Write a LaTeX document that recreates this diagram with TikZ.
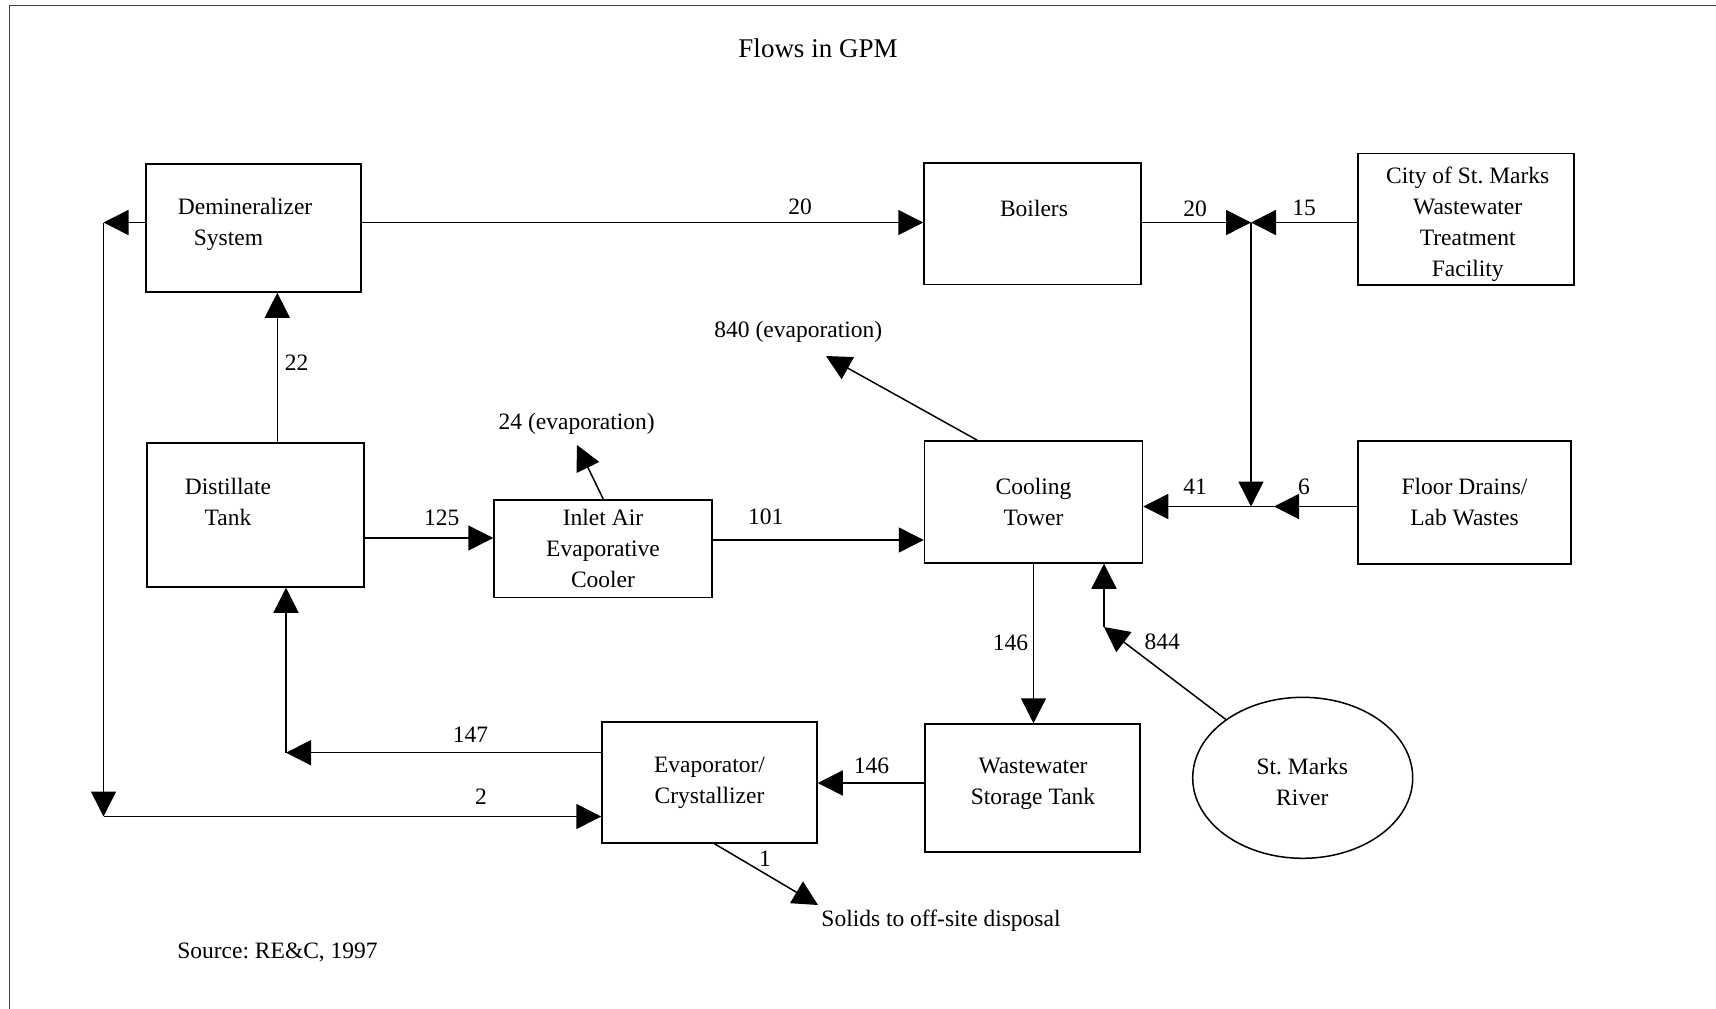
\documentclass[tikz,border=0pt]{standalone}
\usepackage{fontspec}
\setmainfont{Liberation Serif}
\usetikzlibrary{arrows.meta,shapes.geometric}
\frenchspacing
\begin{document}
\begin{tikzpicture}[x=1pt,y=-1pt,
  box/.style={draw,line width=1.5pt,rectangle,inner sep=0pt,font=\fontsize{23.5}{31}\selectfont,align=center},
  txt/.style={font=\fontsize{23.5}{31}\selectfont,align=center,inner sep=0pt},
  lab/.style={font=\fontsize{23.5}{28}\selectfont,inner sep=0pt},
  flow/.style={line width=1.5pt,-{Triangle[length=25pt,width=25pt]}}]
\useasboundingbox (0,0) rectangle (1716,1009);
% scan frame
\draw[line width=1.5pt,black!75] (9.5,1009) -- (9.5,5.5) -- (1716,5.5);
\node[lab,font=\fontsize{27}{30}\selectfont] (title) at (818,48) {Flows in GPM};

% boxes
\node[box,minimum width=215pt,minimum height=128pt] (demin) at (253.5,228) {};
\node[txt,align=left,anchor=west] (demint) at (177.7,224) {Demineralizer\\\hspace*{16pt}System};
\node[box,minimum width=217pt,minimum height=144pt] (distill) at (255.5,515) {};
\node[txt] (distillt) at (228,502) {Distillate\\Tank};
\node[box,minimum width=218pt,minimum height=97.5pt] (inlet) at (603,548.7) {Inlet Air\\Evaporative\\Cooler};
\node[box,minimum width=217pt,minimum height=121.5pt] (boilers) at (1032.5,223.7) {};
\node[txt] (boilerst) at (1034,208.3) {Boilers};
\node[box,minimum width=216pt,minimum height=131.5pt] (city) at (1466,219.2) {};
\node[txt] (cityt) at (1467.7,224.5) {City of St. Marks\\Wastewater\\Treatment\\Facility};
\node[box,minimum width=218pt,minimum height=122pt] (ct) at (1033.5,502) {Cooling\\Tower};
\node[box,minimum width=213pt,minimum height=123pt] (fd) at (1464.5,502.5) {Floor Drains/\\Lab Wastes};
\node[box,minimum width=215pt,minimum height=121pt] (evap) at (709.5,782.5) {Evaporator/\\Crystallizer};
\node[box,minimum width=215pt,minimum height=128pt] (wst) at (1032.5,788) {};
\node[txt] (wstt) at (1033,784) {Wastewater\\Storage Tank};
\node[box,ellipse,minimum width=220pt,minimum height=161pt] (river) at (1302.7,777.8) {};
\node[txt] (rivert) at (1302.3,782) {St. Marks\\River};

% junction points
\coordinate (j1) at (1251,222.5);
\coordinate (j2) at (1251,506.5);
\coordinate (j2r) at (1274,506.5);
\coordinate (c1) at (286,752.7);
\coordinate (c2) at (103.5,222.5);
\coordinate (c3) at (103.5,816.5);
\coordinate (c4) at (1104,627);
\coordinate (e24) at (577,445);
\coordinate (e840) at (826,356);
\coordinate (sol) at (818,905);

% connectors
\draw[flow] (demin.east |- 0,222.5) -- (boilers.west |- 0,222.5);
\draw[flow] (boilers.east |- j1) -- (j1);
\draw[flow] (city.west |- j1) -- (j1);
\draw[flow] (j1) -- (j2);
\draw[flow] (fd.west |- j2r) -- (j2r);
\draw[flow] (j2r) -- (ct.east |- j2r);
\draw[flow] (ct.south) -- (ct.south |- wst.north);
\draw[flow] (wst.west |- 0,783) -- (evap.east |- 0,783);
\draw[flow] (evap.west |- c1) -- (c1);
\draw[flow] (c1) -- (c1 |- distill.south);
\draw[flow] (demin.west |- c2) -- (c2);
\draw[flow] (c2) -- (c3);
\draw[flow] (c3) -- (evap.west |- c3);
\draw[flow] (distill.north -| 277.3,0) -- (demin.south -| 277.3,0);
\draw[flow] (distill.east |- 0,538) -- (inlet.west |- 0,538);
\draw[flow] (inlet.east |- 0,540) -- (ct.west |- 0,540);
\draw[flow] (inlet.north -| 603.3,0) -- (e24);
\draw[flow] (ct.north -| 977.3,0) -- (e840);
\draw[flow] (river) -- (c4);
\draw[flow] (c4) -- (c4 |- ct.south);
\draw[flow] (evap.south -| 714.5,0) -- (sol);

% labels
\node[lab] (l20a) at (800,207) {20};
\node[lab] (l20b) at (1195,208.3) {20};
\node[lab] (l15) at (1304,208.3) {15};
\node[lab] (l22) at (296.7,362.5) {22};
\node[lab] (l125) at (441.7,517.5) {125};
\node[lab] (l101) at (765.7,516.3) {101};
\node[lab] (l24) at (576.7,424) {24 (evaporation)};
\node[lab] (l840) at (798.3,331.7) {840 (evaporation)};
\node[lab] (l41) at (1195,486.7) {41};
\node[lab] (l6) at (1304,486.7) {6};
\node[lab] (l146v) at (1010.5,642.7) {146};
\node[lab] (l844) at (1162.3,641.3) {844};
\node[lab] (l147) at (470.4,735) {147};
\node[lab] (l2) at (481,796.7) {2};
\node[lab] (l146h) at (871.6,766) {146};
\node[lab] (l1) at (765,858.3) {1};
\node[lab] (lsol) at (941,921) {Solids to off-site disposal};
\node[lab] (lsrc) at (277.5,952.3) {Source: RE\&C, 1997};
\end{tikzpicture}
\end{document}
